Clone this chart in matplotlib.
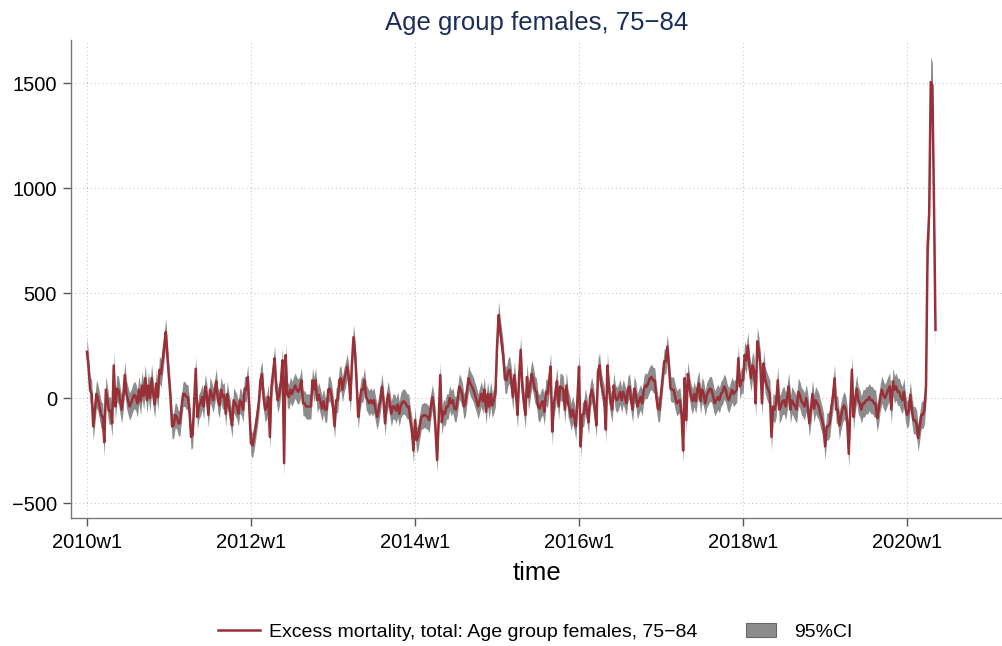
import matplotlib
matplotlib.use("Agg")
import matplotlib.pyplot as plt
import numpy as np
from matplotlib.patches import Patch
from matplotlib.lines import Line2D

plt.rcParams['font.family'] = ['Liberation Sans', 'DejaVu Sans']

# Weekly excess mortality (Stata weekly calendar, 52 weeks/year), starting 2010w1
y2010 = [220, 150, 40, 20, -135, -60, 20, 0, -40, -80, -90, -210, 40, -10, -60, -60,
         -120, 155, -40, 45, 40, -10, -55, 5, 110, 20, -10, -40, -25, 0, 15, 5,
         -25, 40, -15, 60, 10, 95, -10, 60, 0, 95, 20, -30, 70, 5, 135, 115,
         180, 250, 315, 200]
y2011 = [100, 0, -135, -130, -80, -90, -120, -120, -40, 20, 20, 5, 5, -60, -185, -175,
         -20, 140, -90, -40, -25, 5, -40, 55, 10, -80, 40, 20, -10, 30, 80, -10,
         -35, 40, 5, 15, -75, 20, -35, -75, -130, -10, -25, -40, -75, -10, -25, -55,
         45, 40, 100, -55]
y2012 = [-215, -225, -185, -135, -80, -20, 85, 115, 0, -55, -40, 5, -185, 55, 120, 190,
         45, -10, 20, 80, 180, -310, 205, 20, 5, 40, 20, 40, 60, 40, 30, 45,
         85, -25, -25, -40, -40, -40, -40, 85, 40, 85, -10, 15, -15, -50, -15, -55,
         -55, 40, 45, 15]
y2013 = [-40, -135, -10, -10, 85, 95, 40, 85, 115, 150, 100, -10, 165, 290, 215, 70,
         -90, -10, 40, 40, 85, 5, -10, -25, -10, -25, -10, -55, -90, -55, -10, 55,
         -10, -120, -25, 20, -25, -75, -40, -40, -60, -30, -75, -35, -20, -15, -25, -40,
         -40, -105, -150, -250]
y2014 = [-105, -200, -185, -135, -90, -85, -80, -85, -90, -105, -40, 5, -40, -150, -295, -105,
         110, -115, -65, -75, -40, -40, 0, -25, -10, -50, -55, -10, 55, 40, 15, -40,
         -25, 40, 95, 70, 55, 40, 15, -10, -40, -10, 20, -15, 40, -65, 20, -40,
         20, -35, -10, 20]
y2015 = [245, 395, 320, 260, 195, 90, 85, 125, 135, 85, 5, 110, 20, -80, 100, 230,
         55, -20, -80, 100, 5, 60, 115, 85, 40, 30, -40, -50, -25, -15, -65, 30,
         20, 80, 150, -160, -25, 20, 80, -40, 55, 50, 40, -55, 60, -25, -50, -90,
         -55, -90, -135, 0]
y2016 = [150, -230, -80, -75, -15, -55, -115, 5, 40, 5, -60, -130, 125, 155, 70, 30,
         0, -150, 155, 40, -20, -55, 60, 5, -10, 5, 30, -10, 30, 5, -25, 45,
         55, -10, -55, 45, 20, -40, -15, 5, -25, 40, 60, 55, 75, 95, 100, 85,
         85, 5, -50, -55]
y2017 = [20, 100, 175, 175, 245, 150, 45, 40, 40, 5, -25, -15, -10, -80, -250, 95,
         -105, 115, 55, 5, -15, 20, -15, 40, 70, -15, 40, 20, -25, 15, 30, 45,
         40, 10, -25, -10, 5, -10, 20, 30, 55, 40, 5, -10, 15, 40, 20, 30,
         40, 190, 55, 85]
y2018 = [85, 205, 180, 250, 150, 95, 155, 130, -25, 270, 230, 150, -25, 165, 85, 60,
         40, 20, -185, -40, -55, -25, 85, -55, -40, -15, -10, -40, 5, 55, -55, -10,
         -25, -40, -55, 30, 15, -15, -25, -40, 0, -40, -120, -55, 20, -50, -10, -25,
         -40, -75, -100, -135]
y2019 = [-230, -135, -135, -120, -40, 5, 95, -55, -55, -130, -90, -55, -35, -50, -105, -265,
         -55, 135, -90, -10, 45, -10, -25, -55, -25, -25, -10, -10, 5, -10, -10, -25,
         -25, -95, -55, 5, 40, 15, 0, 20, 40, 55, -55, 80, 40, 55, 30, 30,
         5, -10, 30, -50]
y2020 = [-80, -65, 15, -55, -105, -105, -120, -190, -135, -80, -80, -55, 60, 720, 880, 1505,
         1490, 950, 325]

# approximate 95% CI half-widths read from the grey band (per year), and for the last weeks of 2020
ci_half_by_year = [65, 60, 60, 60, 60, 65, 60, 60, 65, 65, 65]
ci_half_2020_tail = [70, 70, 100, 110, 120, 110, 100, 80]

years = [y2010, y2011, y2012, y2013, y2014, y2015, y2016, y2017, y2018, y2019, y2020]
values = np.array([v for yr in years for v in yr], dtype=float)
half = np.array([h for yr, h in zip(years, ci_half_by_year) for _ in yr], dtype=float)
half[-len(ci_half_2020_tail):] = ci_half_2020_tail
weeks = np.arange(len(values))

tick_labels = ['2010w1', '2012w1', '2014w1', '2016w1', '2018w1', '2020w1']
tick_pos = [0, 104, 208, 312, 416, 520]

fig = plt.figure(figsize=(10.03, 6.46), dpi=100)
ax = fig.add_axes([71/1003, 128/646, (1003-71)/1003, (518-40)/646])

ci_color = '#8c8c8c'
line_color = '#993038'
ax.fill_between(weeks, values - half, values + half, color=ci_color, lw=0, zorder=2)
ax.plot(weeks, values, color=line_color, lw=1.8, zorder=3)

ax.set_xlim(-10.1, 580.8)
ax.set_ylim(-571, 1705)
ax.set_xticks(tick_pos)
ax.set_xticklabels(tick_labels)
ax.set_yticks([-500, 0, 500, 1000, 1500])
ax.set_yticklabels(['\u2212500', '0', '500', '1000', '1500'])
ax.tick_params(axis='both', labelsize=14.5, length=6, width=1, color='#555555')
ax.tick_params(axis='x', pad=5)
ax.tick_params(axis='y', pad=4)
ax.grid(True, linestyle=(0, (1, 3)), color='#bdbdbd', lw=0.7, zorder=0)
for s in ['top', 'right']:
    ax.spines[s].set_visible(False)
for s in ['left', 'bottom']:
    ax.spines[s].set_color('#777777')
    ax.spines[s].set_linewidth(1.0)

ax.set_xlabel('time', fontsize=18.5, labelpad=6)
ax.set_title('Age group females, 75\u221284', fontsize=18.5, color='#1c2d57', pad=7, x=0.5)

leg_y = 1 - 632 / 646
leg1 = fig.legend([Line2D([0], [0], color=line_color, lw=1.8)],
                  ['Excess mortality, total: Age group females, 75\u221284'],
                  loc='center left', bbox_to_anchor=(218 / 1003, leg_y), frameon=False,
                  fontsize=14, handlelength=2.15, handletextpad=0.45,
                  borderpad=0, borderaxespad=0)
leg2 = fig.legend([Patch(facecolor=ci_color, edgecolor='#666666', lw=0.8)], ['95%CI'],
                  loc='center left', bbox_to_anchor=(746 / 1003, leg_y), frameon=False,
                  fontsize=14, handlelength=1.55, handletextpad=0.95,
                  borderpad=0, borderaxespad=0)

fig.savefig('out.png', dpi=100)
